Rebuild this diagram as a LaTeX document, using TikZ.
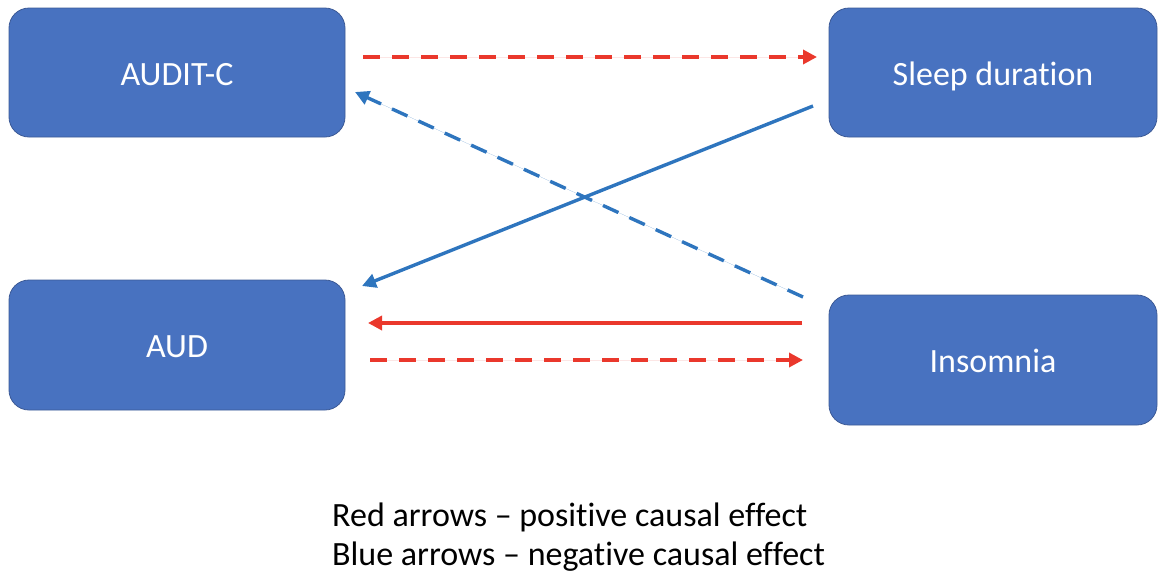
\documentclass[tikz,border=0pt]{standalone}
\usepackage{fontspec}
\setmainfont{Carlito}[Ligatures=NoCommon]
\usetikzlibrary{arrows.meta}
\definecolor{boxfill}{RGB}{72,114,192}
\definecolor{boxline}{RGB}{60,90,150}
\definecolor{pred}{RGB}{234,56,44}
\definecolor{pblue}{RGB}{46,117,190}
\begin{document}
\begin{tikzpicture}[x=1pt,y=-1pt,
  box/.style={draw=boxline,line width=0.8pt,fill=boxfill,rounded corners=20pt,text=white,font=\fontsize{34}{40}\selectfont,inner sep=0pt,text height=25pt,text depth=0pt},
  conn/.style={line width=3.4pt,-{Triangle[length=14pt,width=14pt]}},
  dashline/.style={dash pattern=on 17pt off 12pt},
  redarrow/.style={conn,draw=pred,fill=pred},
  bluearrow/.style={conn,draw=pblue,fill=pblue}]
\useasboundingbox (0,0) rectangle (1158,574);
\node[box,minimum width=336pt,minimum height=129pt] (audit) at (177,72.5) {AUDIT-C};
\node[box,minimum width=328pt,minimum height=129pt] (sleep) at (993,72.5) {Sleep duration};
\node[box,minimum width=336pt,minimum height=130pt] (aud) at (177,345) {AUD};
\node[box,minimum width=328pt,minimum height=130pt] (insom) at (993,360) {Insomnia};
% connector end points
\coordinate (a1) at (363,57);
\coordinate (s1) at (817,57);
\coordinate (s2) at (813,106);
\coordinate (d2) at (362,286);
\coordinate (i3) at (803,297);
\coordinate (a3) at (355,92);
\coordinate (i4) at (802,323);
\coordinate (d4) at (368,323);
\coordinate (d5) at (370,360);
\coordinate (i5) at (803,360);
\draw[redarrow,dashline] (a1) -- (s1);
\draw[bluearrow] (s2) -- (d2);
\draw[bluearrow,dashline] (i3) -- (a3);
\draw[redarrow] (i4) -- (d4);
\draw[redarrow,dashline] (d5) -- (i5);
\node[anchor=base west,align=left,font=\fontsize{34}{39}\selectfont,inner sep=0pt] (legend) at (332,565) {Red arrows -- positive causal effect\\Blue arrows -- negative causal effect};
\end{tikzpicture}
\end{document}
